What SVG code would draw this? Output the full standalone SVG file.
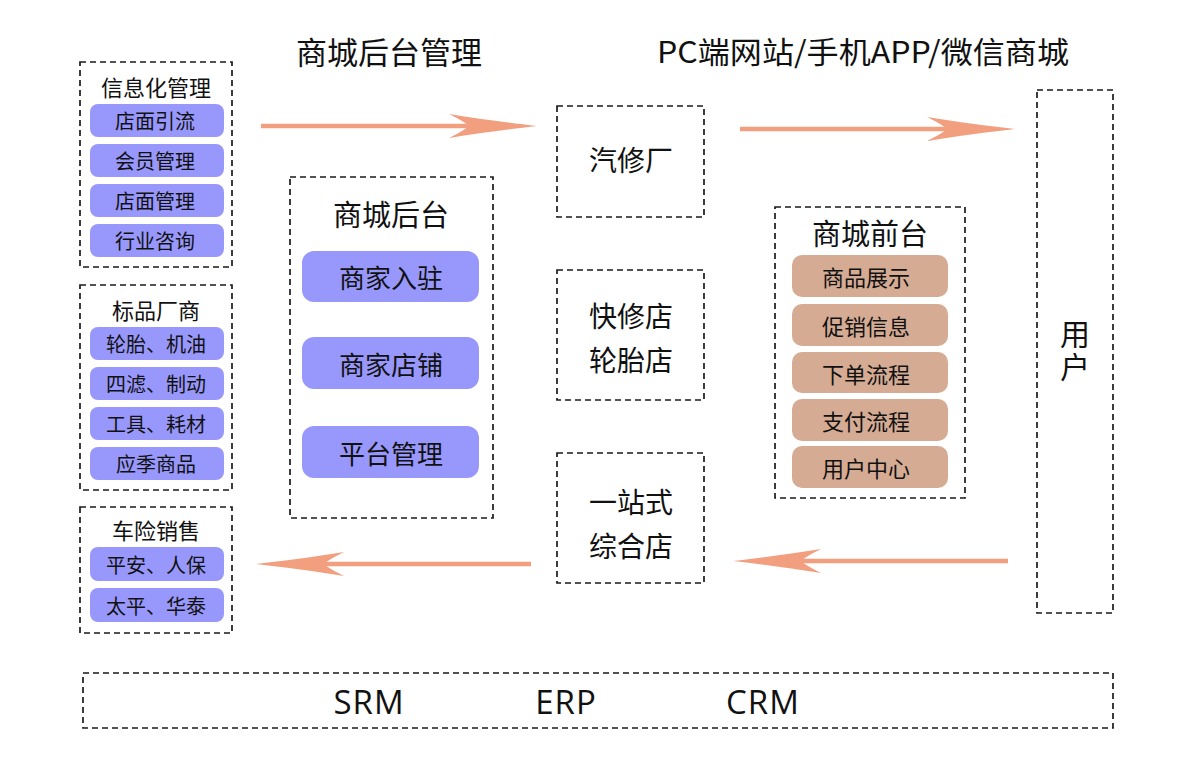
<svg xmlns="http://www.w3.org/2000/svg" width="1200" height="768" viewBox="0 0 1200 768">
<style>
.box{fill:none;stroke:#1a1a1a;stroke-width:1.7;stroke-dasharray:6 4}
.pp{fill:#9898fc}
.tp{fill:#d5ab94}
.t{font-family:"Noto Sans CJK SC","Noto Sans",sans-serif;fill:#111;text-anchor:middle;dominant-baseline:central}
.lat{font-family:"Open Sans","Noto Sans","Liberation Sans",sans-serif;fill:#111;text-anchor:middle;dominant-baseline:central;letter-spacing:1px}
.s20{font-size:20px}
.s22{font-size:22px}
.s26{font-size:26px}
.s28{font-size:28px}
.s29{font-size:29px}
.s30{font-size:30px}
.s31{font-size:31px}
.arr{fill:none;stroke:#f29f7f;stroke-width:4.5}
</style>
<defs>
<marker id="ah" viewBox="0 0 88 24" refX="20" refY="12" markerWidth="88" markerHeight="24" markerUnits="userSpaceOnUse" orient="auto">
<path d="M88,12 C62,9 30,5 0,0 Q16,8 20,12 Q16,16 0,24 C30,19 62,15 88,12 Z" fill="#f29f7f"/>
</marker>
</defs>
<rect width="1200" height="768" fill="#fff"/>

<g id="titles">
<text class="t s31" x="389" y="50">商城后台管理</text>
<text class="t s30" x="863" y="50" textLength="412" lengthAdjust="spacingAndGlyphs">PC端网站/手机APP/微信商城</text>
</g>

<g id="connectors">
<line class="arr" x1="261" y1="126" x2="469" y2="126" marker-end="url(#ah)"/>
<line class="arr" x1="740" y1="129" x2="947" y2="129" marker-end="url(#ah)"/>
<line class="arr" x1="531" y1="564" x2="324" y2="564" marker-end="url(#ah)"/>
<line class="arr" x1="1008" y1="561" x2="801" y2="561" marker-end="url(#ah)"/>
</g>

<g id="info-mgmt">
<rect class="box" x="80" y="62" width="152" height="205"/>
<text class="t s22" x="156" y="86">信息化管理</text>
<rect class="pp" x="90" y="104" width="134" height="33" rx="8"/>
<text class="t s20" x="155" y="120.5">店面引流</text>
<rect class="pp" x="90" y="144" width="134" height="33" rx="8"/>
<text class="t s20" x="155" y="160.5">会员管理</text>
<rect class="pp" x="90" y="184" width="134" height="33" rx="8"/>
<text class="t s20" x="155" y="200.5">店面管理</text>
<rect class="pp" x="90" y="224" width="134" height="33" rx="8"/>
<text class="t s20" x="155" y="240.5">行业咨询</text>
</g>

<g id="brand-vendors">
<rect class="box" x="80" y="285" width="152" height="205"/>
<text class="t s22" x="156" y="309">标品厂商</text>
<rect class="pp" x="90" y="327" width="134" height="33" rx="8"/>
<text class="t s20" x="156" y="343.5">轮胎、机油</text>
<rect class="pp" x="90" y="367" width="134" height="33" rx="8"/>
<text class="t s20" x="156" y="383.5">四滤、制动</text>
<rect class="pp" x="90" y="407" width="134" height="33" rx="8"/>
<text class="t s20" x="156" y="423.5">工具、耗材</text>
<rect class="pp" x="90" y="447" width="134" height="33" rx="8"/>
<text class="t s20" x="156" y="463.5">应季商品</text>
</g>

<g id="insurance">
<rect class="box" x="80" y="507" width="152" height="126"/>
<text class="t s22" x="156" y="529">车险销售</text>
<rect class="pp" x="90" y="547" width="134" height="34" rx="8"/>
<text class="t s20" x="156" y="564">平安、人保</text>
<rect class="pp" x="90" y="588" width="134" height="34" rx="8"/>
<text class="t s20" x="156" y="605">太平、华泰</text>
</g>

<g id="mall-backend">
<rect class="box" x="290" y="177" width="203" height="341"/>
<text class="t s29" x="391" y="213">商城后台</text>
<rect class="pp" x="302" y="251" width="177" height="51" rx="12"/>
<text class="t s26" x="391" y="276.5">商家入驻</text>
<rect class="pp" x="302" y="337" width="177" height="52" rx="12"/>
<text class="t s26" x="391" y="363">商家店铺</text>
<rect class="pp" x="302" y="426" width="177" height="52" rx="12"/>
<text class="t s26" x="391" y="452">平台管理</text>
</g>

<g id="repair-shop">
<rect class="box" x="557" y="106" width="147" height="111"/>
<text class="t s28" x="631" y="159">汽修厂</text>
</g>

<g id="quick-shop">
<rect class="box" x="557" y="270" width="147" height="130"/>
<text class="t s28" x="631" y="315">快修店</text>
<text class="t s28" x="631" y="359">轮胎店</text>
</g>

<g id="one-stop">
<rect class="box" x="557" y="453" width="147" height="130"/>
<text class="t s28" x="631" y="501">一站式</text>
<text class="t s28" x="631" y="545">综合店</text>
</g>

<g id="mall-frontend">
<rect class="box" x="775" y="207" width="190" height="291"/>
<text class="t s29" x="870" y="232">商城前台</text>
<rect class="tp" x="792" y="255" width="156" height="42" rx="10"/>
<text class="t s22" x="866" y="276">商品展示</text>
<rect class="tp" x="792" y="304" width="156" height="42" rx="10"/>
<text class="t s22" x="866" y="325">促销信息</text>
<rect class="tp" x="792" y="352" width="156" height="41" rx="10"/>
<text class="t s22" x="866" y="372.5">下单流程</text>
<rect class="tp" x="792" y="399" width="156" height="42" rx="10"/>
<text class="t s22" x="866" y="420">支付流程</text>
<rect class="tp" x="792" y="446" width="156" height="42" rx="10"/>
<text class="t s22" x="866" y="467">用户中心</text>
</g>

<g id="user">
<rect class="box" x="1037" y="90" width="76" height="523"/>
<text class="t s30" x="1075" y="352" style="writing-mode:vertical-rl;letter-spacing:3px">用户</text>
</g>

<g id="systems">
<rect class="box" x="83" y="673" width="1030" height="55"/>
<text class="lat" x="369" y="701" font-size="33">SRM</text>
<text class="lat" x="566" y="701" font-size="33">ERP</text>
<text class="lat" x="763" y="701" font-size="33">CRM</text>
</g>
</svg>
